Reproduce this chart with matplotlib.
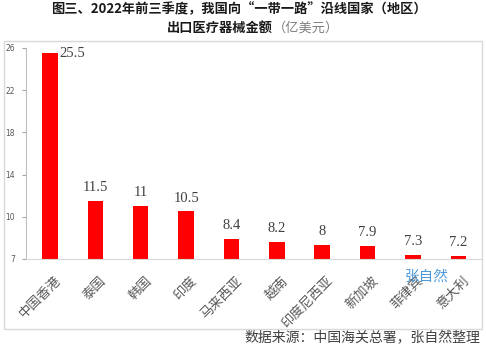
import matplotlib
matplotlib.use("Agg")
import matplotlib.pyplot as plt
import numpy as np
from matplotlib.patches import Rectangle

plt.rcParams['font.family'] = ['Noto Sans CJK SC', 'DejaVu Sans']

categories = ["中国香港", "泰国", "韩国", "印度", "马来西亚", "越南", "印度尼西亚", "新加坡", "菲律宾", "意大利"]
values = [25.5, 11.5, 11, 10.5, 8.4, 8.2, 8, 7.9, 7.3, 7.2]
value_labels = ["25.5", "11.5", "11", "10.5", "8.4", "8.2", "8", "7.9", "7.3", "7.2"]
yticks = [7, 10, 14, 18, 22, 26]

title1 = "图三、2022年前三季度，我国向“一带一路”沿线国家（地区）"
title2a = "出口医疗器械金额"
title2b = "（亿美元）"
source = "数据来源：中国海关总署，张自然整理"
watermark = "张自然"

# piecewise scale: 7->0, 10->1, then 4 units per step
def fwd(v):
    v = np.asarray(v, dtype=float)
    return np.where(v < 10, (v - 7) / 3.0, 1 + (v - 10) / 4.0)

def inv(u):
    u = np.asarray(u, dtype=float)
    return np.where(u < 1, 7 + 3 * u, 10 + 4 * (u - 1))

fig = plt.figure(figsize=(4.86, 3.49), dpi=100)
fig.patch.set_facecolor("white")

# outer border
fig.patches.append(Rectangle((0.008, 0.057), 0.9835, 0.825, transform=fig.transFigure,
                             fill=False, edgecolor="#d9d9d9", linewidth=1.0))

ax = fig.add_axes([0.0535, 0.258, 0.938, 0.6045])
ax.set_yscale('function', functions=(fwd, inv))
x = np.arange(len(categories))
ax.bar(x, values, width=0.34, color="#ff0000", zorder=2)
ax.set_ylim(7, 26)
ax.set_xlim(-0.53, 9.52)
ax.set_yticks(yticks)
ax.set_yticklabels([str(t) for t in yticks], fontsize=5.5, color="#595959", family="DejaVu Sans")
ax.yaxis.set_minor_locator(matplotlib.ticker.NullLocator())
ax.tick_params(axis='y', length=3, color="#a6a6a6", pad=5)
ax.set_xticks(x)
ax.set_xticklabels([])
ax.tick_params(axis='x', length=0)
for s in ["top", "right"]:
    ax.spines[s].set_visible(False)
ax.spines["left"].set_color("#bfbfbf")
ax.spines["bottom"].set_color("#d9d9d9")

for i, (v, lab) in enumerate(zip(values, value_labels)):
    if i == 0:
        ax.annotate(lab, (i, v), xytext=(7, 0), textcoords="offset points",
                    ha="left", va="center", fontsize=10.5, color="#404040", family="Liberation Serif")
    else:
        ax.annotate(lab, (i, v), xytext=(0, 5), textcoords="offset points",
                    ha="center", va="bottom", fontsize=10.5, color="#404040", family="Liberation Serif")

for i, c in enumerate(categories):
    ax.annotate(c, (i, 7), xytext=(3, -11), textcoords="offset points",
                ha="right", va="top", rotation=45, rotation_mode="anchor",
                fontsize=9.5, color="#595959")

fig.text(0.492, 0.973, title1, ha="center", va="center", fontsize=9.5, fontweight="bold", color="#1a1a1a")
fig.text(0.562, 0.92, title2a, ha="right", va="center", fontsize=9.5, fontweight="bold", color="#1a1a1a")
fig.text(0.562, 0.92, title2b, ha="left", va="center", fontsize=9.5, color="#7f7f7f")
fig.text(0.988, 0.032, source, ha="right", va="center", fontsize=10, color="#404040")
fig.text(0.878, 0.207, watermark, ha="center", va="center", fontsize=10.5, color="#3b8fd6", alpha=0.9)

fig.savefig("out.png", dpi=100, facecolor="white")
